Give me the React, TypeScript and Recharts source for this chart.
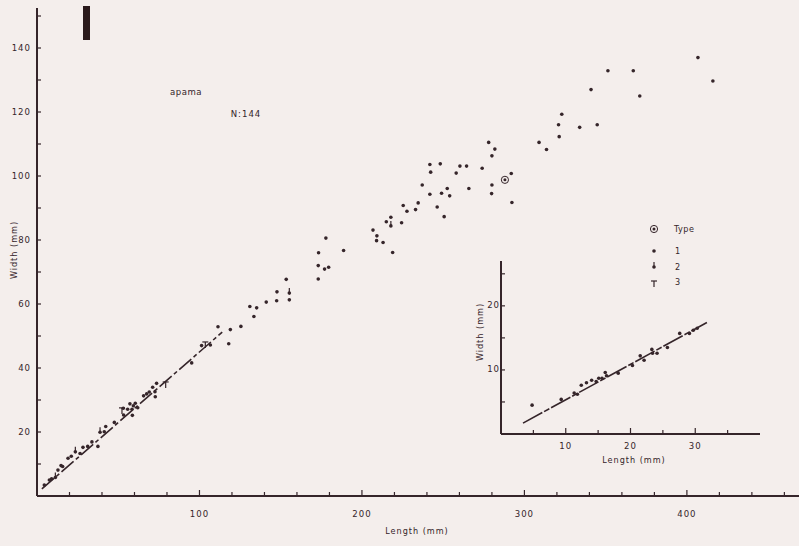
import { ScatterChart, Scatter, XAxis, YAxis, ReferenceLine } from 'recharts'

// main plot: shell length vs width (mm)
const type1Points = [
  [406.8, 137], [351.4, 132.9], [367, 132.9], [416, 129.7], [341, 127], [371, 125],
  [323, 119.3], [321, 116], [334, 115.2], [344.8, 116], [321.4, 112.3], [309, 110.5],
  [313.6, 108.3], [278, 110.5], [281.8, 108.4], [280, 106.3], [274, 102.4], [291.9, 100.8],
  [280, 97.2], [279.8, 94.5], [292.3, 91.7],
  [241.8, 103.6], [248.2, 103.8], [260.3, 103.1], [264.4, 103.1], [242.3, 101.2], [258, 100.9],
  [237.1, 97.2], [252.5, 96.1], [265.8, 96.1], [241.8, 94.3], [249, 94.6], [254, 93.8],
  [225.4, 90.8], [234.6, 91.6], [233, 89.5], [227.7, 89], [246.3, 90.3], [250.6, 87.3],
  [217.8, 87.1], [215, 85.7], [224.4, 85.4], [206.8, 83.1], [209.2, 81.3], [209, 79.8],
  [213, 79.2], [218.9, 76.1],
  [177.8, 80.6], [173.3, 76], [188.7, 76.7], [173.1, 72], [179.5, 71.5], [177, 70.9], [173.1, 67.8],
  [153.4, 67.7], [147.7, 63.8], [147.5, 61], [155.3, 61.3], [141.1, 60.6], [131, 59.2],
  [135.2, 58.8], [133.5, 56.1], [125.5, 53], [119, 52], [111.4, 52.9], [118, 47.6],
  [106.7, 47.2], [101.3, 47], [95.2, 41.6],
  [73.6, 35.2], [71.2, 34], [72.6, 32.6], [69.1, 32.5], [72.8, 31], [65.6, 31.3], [67.5, 31.9],
  [60.5, 29], [59.3, 28.2], [57.2, 28.8], [62, 27.6], [58.5, 27.1], [55.8, 27.1], [53.1, 27.4],
  [58.7, 25.2], [53.3, 25.3], [47.6, 23], [42.3, 21.7], [41.4, 20.1], [37.5, 15.5], [33.8, 16.9],
  [31.2, 15.5], [28.3, 15.2], [26.5, 13.3], [21.1, 12.4], [19.1, 11.8], [15.8, 9.2], [14.8, 9.5],
  [12.9, 8.1], [9, 5.4], [7.6, 5], [4.5, 3.4],
]
const type2Points = [[38.8, 19.9], [23.6, 13.8], [11.3, 5.8], [155.3, 63.4], [217.8, 84.4]]
const type3Points = [[52.3, 26.6], [79.2, 34.7], [103.6, 47.2]]
const typeSpecimen = [[288, 98.8]]
const mainFit = [[3, 2.2], [114, 51.2]]

// inset: small specimens
const insetPoints = [
  [4.8, 4.5], [9.3, 5.4], [11.3, 6.4], [11.8, 6.2], [12.4, 7.6], [13.2, 8], [14, 8.4],
  [14.7, 8.2], [15.1, 8.7], [15.6, 8.7], [16.1, 9.6], [16.3, 9.1], [18.1, 9.5], [20.3, 10.7],
  [21.5, 12.2], [22.1, 11.5], [23.3, 13.2], [23.4, 12.6], [24.1, 12.6], [25.7, 13.5],
  [27.6, 15.7], [29.1, 15.7], [29.7, 16.2], [30.3, 16.5],
]
const insetFit = [[3.4, 1.7], [31.8, 17.4]]

const mainXTicks = [20, 40, 60, 80, 100, 120, 140, 160, 180, 200, 220, 240, 260, 280, 300, 320, 340, 360, 380, 400, 420, 440, 460]
const mainYTicks = [10, 20, 30, 40, 50, 60, 70, 80, 90, 100, 110, 120, 130, 140, 150]
const insetXTicks = [5, 10, 15, 20, 25, 30, 35]
const insetYTicks = [5, 10, 15, 20, 25]

const ink = '#35252a'
const bg = '#f4eeec'
const font = '"DejaVu Sans Condensed", "DejaVu Sans", sans-serif'

const toXY = (pts: number[][]) => pts.map(([x, y]) => ({ x, y }))

const Dot = (p: any) => <circle cx={p.cx} cy={p.cy} r={1.8} fill={ink} />
const Dot2 = (p: any) => (
  <g>
    <circle cx={p.cx} cy={p.cy} r={1.8} fill={ink} />
    <line x1={p.cx} x2={p.cx} y1={p.cy - 5} y2={p.cy} stroke={ink} strokeWidth={1.2} />
  </g>
)
const Dot3 = (p: any) => (
  <g>
    <line x1={p.cx - 3} x2={p.cx + 3} y1={p.cy - 3} y2={p.cy - 3} stroke={ink} strokeWidth={1.2} />
    <line x1={p.cx} x2={p.cx} y1={p.cy - 3} y2={p.cy + 3} stroke={ink} strokeWidth={1.2} />
  </g>
)
const Ring = (p: any) => (
  <g>
    <circle cx={p.cx} cy={p.cy} r={3.6} fill="none" stroke={ink} strokeWidth={1} />
    <circle cx={p.cx} cy={p.cy} r={1.5} fill={ink} />
  </g>
)

function XTick(props: any, every: number, dy: number) {
  const { x, y, payload } = props
  const labelled = payload.value % every === 0
  return (
    <g>
      <line x1={x} x2={x} y1={y} y2={y - (labelled ? 6 : 4)} stroke={ink} strokeWidth={1.2} />
      {labelled && (
        <text x={x} y={y + dy} textAnchor="middle" dominantBaseline="middle" fill={ink} fontSize={9.5} fontFamily={font} letterSpacing={1}>
          {payload.value}
        </text>
      )}
    </g>
  )
}

function YTick(props: any, every: number, dx: number) {
  const { x, y, payload } = props
  const labelled = payload.value % every === 0
  return (
    <g>
      <line x1={x} x2={x + 4} y1={y} y2={y} stroke={ink} strokeWidth={1.2} />
      {labelled && (
        <text x={x - dx} y={y} textAnchor="end" dominantBaseline="middle" fill={ink} fontSize={9.5} fontFamily={font} letterSpacing={1}>
          {payload.value}
        </text>
      )}
    </g>
  )
}

const textStyle = { fontFamily: font, fontSize: 9, fill: ink, letterSpacing: 1 }

export default function App() {
  return (
    <div style={{ position: 'absolute', left: 0, top: 0, width: 799, height: 546, background: bg, overflow: 'hidden' }}>
      <div style={{ position: 'absolute', left: 83, top: 6, width: 7, height: 34, background: '#2a1a1c' }} />

      <ScatterChart width={799} height={546} margin={{ top: 8, right: 0, bottom: 0, left: 0 }} style={{ position: 'absolute', left: 0, top: 0 }}>
        <XAxis
          type="number"
          dataKey="x"
          domain={[0, 469]}
          ticks={mainXTicks}
          height={50}
          tickSize={0}
          tickMargin={0}
          stroke={ink}
          strokeWidth={2}
          tick={(p: any) => XTick(p, 100, 18)}
        />
        <YAxis
          type="number"
          dataKey="y"
          domain={[0, 152.5]}
          ticks={mainYTicks}
          width={37}
          tickSize={0}
          tickMargin={0}
          stroke={ink}
          strokeWidth={2}
          tick={(p: any) => YTick(p, 20, 6)}
        />
        <ReferenceLine
          segment={toXY(mainFit)}
          stroke={ink}
          strokeWidth={1.6}
          strokeDasharray="16 3 4 3"
        />
        <Scatter data={toXY(type1Points)} shape={Dot} isAnimationActive={false} />
        <Scatter data={toXY(type2Points)} shape={Dot2} isAnimationActive={false} />
        <Scatter data={toXY(type3Points)} shape={Dot3} isAnimationActive={false} />
        <Scatter data={toXY(typeSpecimen)} shape={Ring} isAnimationActive={false} />
      </ScatterChart>

      <ScatterChart width={310} height={230} margin={{ top: 11, right: 10, bottom: 0, left: 0 }} style={{ position: 'absolute', left: 460, top: 250 }}>
        <XAxis
          type="number"
          dataKey="x"
          domain={[0, 40]}
          ticks={insetXTicks}
          height={46}
          tickSize={0}
          tickMargin={0}
          stroke={ink}
          strokeWidth={2}
          tick={(p: any) => XTick(p, 10, 12)}
        />
        <YAxis
          type="number"
          dataKey="y"
          domain={[0, 27]}
          ticks={insetYTicks}
          width={41}
          tickSize={0}
          tickMargin={0}
          stroke={ink}
          strokeWidth={2}
          tick={(p: any) => YTick(p, 10, 1)}
        />
        <ReferenceLine segment={toXY(insetFit)} stroke={ink} strokeWidth={1.6} strokeDasharray="22 2 6 2" />
        <Scatter data={toXY(insetPoints)} shape={Dot} isAnimationActive={false} />
      </ScatterChart>

      {/* titles, axis titles and key */}
      <svg width={799} height={546} style={{ position: 'absolute', left: 0, top: 0, pointerEvents: 'none' }}>
        <text x={186} y={95} textAnchor="middle" {...textStyle} fontSize={9.5} letterSpacing={0.5}>apama</text>
        <text x={246} y={117} textAnchor="middle" {...textStyle} fontSize={9.5}>N:144</text>
        <text x={417} y={534} textAnchor="middle" {...textStyle}>Length (mm)</text>
        <text transform="translate(17,250) rotate(-90)" textAnchor="middle" {...textStyle}>Width  (mm)</text>
        <text x={634} y={463} textAnchor="middle" {...textStyle}>Length  (mm)</text>
        <text transform="translate(483,332) rotate(-90)" textAnchor="middle" {...textStyle}>Width  (mm)</text>
        <g transform="translate(640,218)" fontFamily={font} fontSize={9} fill={ink}>
          <circle cx={14} cy={11} r={3.6} fill="none" stroke={ink} strokeWidth={1} />
          <circle cx={14} cy={11} r={1.5} />
          <text x={34} y={14} letterSpacing={0.5}>Type</text>
          <circle cx={14} cy={33} r={1.8} />
          <text x={35} y={36}>1</text>
          <circle cx={14} cy={49} r={1.8} />
          <line x1={14} x2={14} y1={44} y2={49} stroke={ink} strokeWidth={1.2} />
          <text x={35} y={52}>2</text>
          <line x1={11} x2={17} y1={63} y2={63} stroke={ink} strokeWidth={1.2} />
          <line x1={14} x2={14} y1={63} y2={69} stroke={ink} strokeWidth={1.2} />
          <text x={35} y={67}>3</text>
        </g>
      </svg>
    </div>
  )
}
